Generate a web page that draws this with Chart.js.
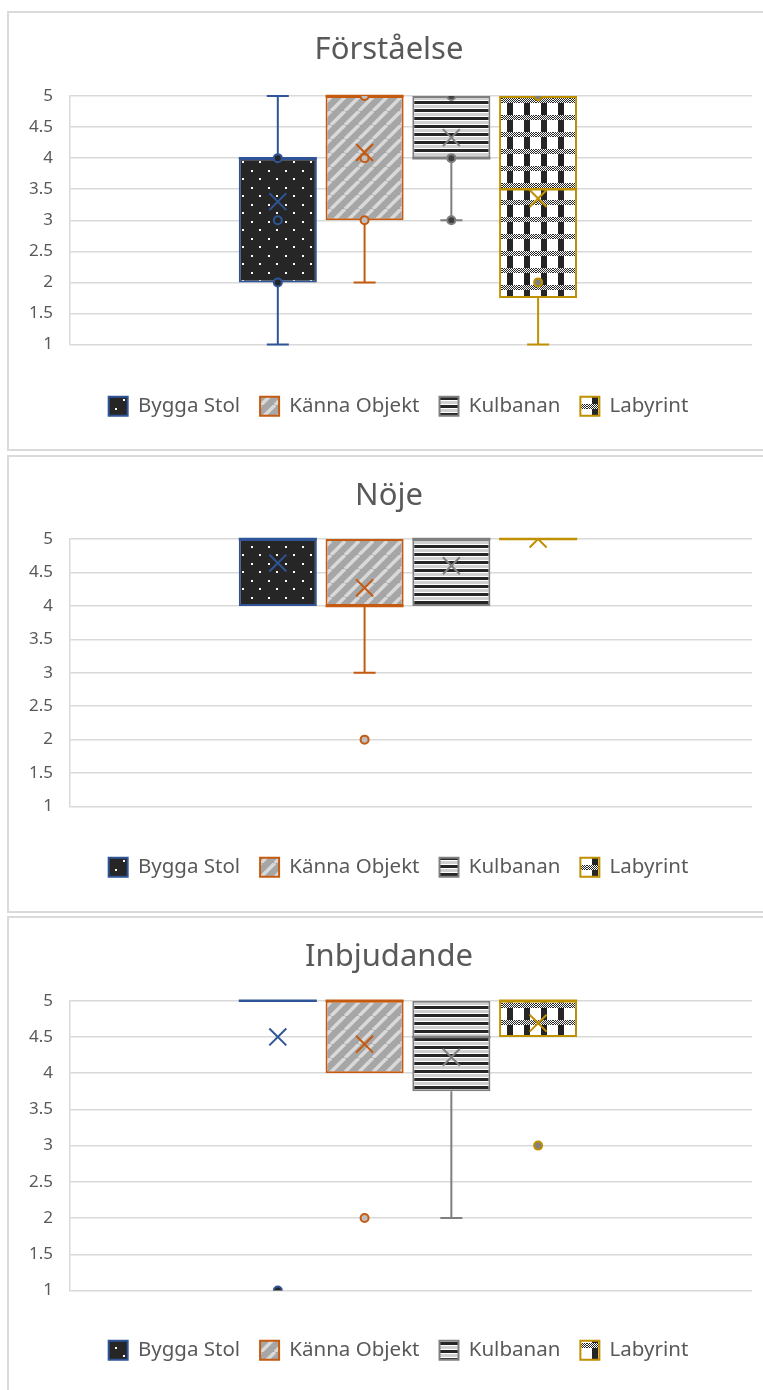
<!DOCTYPE html>
<html>
<head>
<meta charset="utf-8">
<script src="https://cdn.jsdelivr.net/npm/chart.js@4.4.0/dist/chart.umd.min.js"></script>
<style>
html,body{margin:0;padding:0;background:#fff;width:763px;height:1390px;overflow:hidden;}
.panel{position:absolute;left:7px;width:766px;border:2px solid #dadada;box-sizing:border-box;background:#fff;}
.panel canvas{position:absolute;left:0;top:0;}
</style>
</head>
<body>
<div class="panel" style="top:11px;height:440px;"><canvas id="c1" width="762" height="436"></canvas></div>
<div class="panel" style="top:455px;height:458px;"><canvas id="c2" width="762" height="454"></canvas></div>
<div class="panel" style="top:916px;height:490px;"><canvas id="c3" width="762" height="472"></canvas></div>
<script>
// ---------- data ----------
const SERIES = ['Bygga Stol', 'Känna Objekt', 'Kulbanan', 'Labyrint'];
const SERIES_X = [0, 1, 2, 3];
const Y_MIN = 1, Y_MAX = 5, Y_STEP = 0.5;

// Förståelse
const F_TITLE = 'Förståelse';
const F_MIN    = [1, 2, 3, 1];
const F_Q1     = [2, 3, 4, 1.75];
const F_MEDIAN = [4, 5, 4, 3.5];
const F_Q3     = [4, 5, 5, 5];
const F_MAX    = [5, 5, 5, 5];
const F_MEAN   = [3.3, 4.09, 4.33, 3.35];
const F_POINTS = [[4, 3, 2], [5, 4, 3], [5, 4, 3], [5, 2]];

// Nöje
const N_TITLE = 'Nöje';
const N_MIN    = [4, 3, 4, 5];
const N_Q1     = [4, 4, 4, 5];
const N_MEDIAN = [5, 4, 5, 5];
const N_Q3     = [5, 5, 5, 5];
const N_MAX    = [5, 5, 5, 5];
const N_MEAN   = [4.64, 4.27, 4.6, 5];
const N_POINTS = [[], [2], [], []];

// Inbjudande
const I_TITLE = 'Inbjudande';
const I_MIN    = [5, 4, 2, 4.5];
const I_Q1     = [5, 4, 3.75, 4.5];
const I_MEDIAN = [5, 5, 4.5, 5];
const I_Q3     = [5, 5, 5, 5];
const I_MAX    = [5, 5, 5, 5];
const I_MEAN   = [4.5, 4.4, 4.22, 4.69];
const I_POINTS = [[1], [2], [], [3]];

// ---------- styles ----------
const FONT = '"Noto Sans", "Open Sans", sans-serif';
const TEXT = '#595959';
const COLORS = ['#2F5597', '#C55A11', '#7F7F7F', '#BF9000'];
const MARKER_FILL = ['#262626', '#BFBFBF', '#404040', '#808080'];

function tile(w, h, draw) {
  const c = document.createElement('canvas');
  c.width = w; c.height = h;
  const g = c.getContext('2d');
  draw(g, w, h);
  return g.createPattern(c, 'repeat');
}
const PATTERNS = [
  tile(17, 17, (g, w, h) => {
    g.fillStyle = '#262626'; g.fillRect(0, 0, w, h);
    g.fillStyle = '#ffffff';
    g.fillRect(4, 4, 2, 2); g.fillRect(12, 12, 2, 2);
  }),
  tile(14, 14, (g, w, h) => {
    g.fillStyle = '#a6a6a6'; g.fillRect(0, 0, w, h);
    g.strokeStyle = '#d9d9d9'; g.lineWidth = 3.5;
    g.beginPath();
    for (let k = -w; k <= w; k += w) { g.moveTo(k, h); g.lineTo(k + w, 0); }
    g.stroke();
  }),
  tile(8, 8, (g, w, h) => {
    g.fillStyle = '#ffffff'; g.fillRect(0, 0, w, h);
    g.fillStyle = '#262626'; g.fillRect(0, 0, w, 3);
    g.fillStyle = '#d0d0d0'; g.fillRect(0, 4, w, 3);
  }),
  tile(17, 17, (g, w, h) => {
    g.fillStyle = '#ffffff'; g.fillRect(0, 0, w, h);
    g.fillStyle = '#262626'; g.fillRect(5, 0, 6, h);
    for (let y = 0; y < 5; y++) for (let x = 0; x < w; x++) {
      g.fillStyle = ((x + y) % 2) ? '#ffffff' : '#262626';
      g.fillRect(x, y, 1, 1);
    }
  })
];

const boxParts = {
  id: 'boxParts',
  afterLayout(chart, args, opts) {
    const lg = chart.legend;
    if (lg) { lg.left += opts.legendShift; lg.right += opts.legendShift; }
  },
  afterDatasetDraw(chart, args, opts) {
    const meta = args.meta;
    if (meta.type !== 'bar') return;
    const ds = chart.data.datasets[args.index];
    const st = ds.stats;
    const el = meta.data[0];
    if (!el) return;
    const ys = chart.scales.y;
    const ctx = chart.ctx;
    const cx = el.x, half = el.width / 2, cap = opts.cap;
    ctx.save();
    ctx.strokeStyle = ds.borderColor;
    ctx.lineWidth = opts.whiskerWidth;
    ctx.beginPath();
    if (st.min < st.q1) {
      ctx.moveTo(cx, ys.getPixelForValue(st.q1));
      ctx.lineTo(cx, ys.getPixelForValue(st.min));
      ctx.moveTo(cx - cap, ys.getPixelForValue(st.min));
      ctx.lineTo(cx + cap, ys.getPixelForValue(st.min));
    }
    if (st.max > st.q3) {
      ctx.moveTo(cx, ys.getPixelForValue(st.q3));
      ctx.lineTo(cx, ys.getPixelForValue(st.max));
      ctx.moveTo(cx - cap, ys.getPixelForValue(st.max));
      ctx.lineTo(cx + cap, ys.getPixelForValue(st.max));
    }
    ctx.stroke();
    ctx.lineWidth = opts.medianWidth;
    ctx.beginPath();
    ctx.moveTo(cx - half, ys.getPixelForValue(st.med));
    ctx.lineTo(cx + half, ys.getPixelForValue(st.med));
    ctx.stroke();
    ctx.restore();
  }
};

function makeChart(id, title, mins, q1s, meds, q3s, maxs, means, pts, L) {
  const datasets = SERIES.map((name, i) => ({
    type: 'bar',
    label: name,
    order: 2,
    data: [{x: SERIES_X[i], y: [q1s[i], q3s[i]]}],
    backgroundColor: PATTERNS[i],
    borderColor: COLORS[i],
    borderWidth: 2,
    borderSkipped: false,
    grouped: false,
    barPercentage: 0.9,
    categoryPercentage: 1,
    stats: {min: mins[i], q1: q1s[i], med: meds[i], q3: q3s[i], max: maxs[i]}
  }));
  datasets.push({
    type: 'scatter', label: 'mean', order: 1,
    data: means.map((m, i) => ({x: SERIES_X[i], y: m, s: i})),
    pointStyle: 'crossRot', pointRadius: 12, pointHoverRadius: 12, pointBorderWidth: 2,
    pointBorderColor: c => c.raw ? COLORS[c.raw.s] : '#000',
    pointBackgroundColor: 'rgba(0,0,0,0)'
  });
  const pdata = [];
  pts.forEach((arr, i) => arr.forEach(v => pdata.push({x: SERIES_X[i], y: v, s: i})));
  datasets.push({
    type: 'scatter', label: 'points', order: 0,
    data: pdata,
    pointStyle: 'circle', pointRadius: 4, pointHoverRadius: 4, pointBorderWidth: 2,
    pointBorderColor: c => c.raw ? COLORS[c.raw.s] : '#000',
    pointBackgroundColor: c => c.raw ? MARKER_FILL[c.raw.s] : '#000'
  });

  return new Chart(document.getElementById(id), {
    type: 'bar',
    data: {datasets},
    plugins: [boxParts],
    options: {
      responsive: false,
      animation: false,
      events: [],
      layout: {padding: {left: 17, right: 19, top: 0, bottom: L.lb}},
      scales: {
        x: {
          type: 'linear', min: -2.395, max: 5.465, offset: false,
          grid: {display: false}, border: {display: false}, ticks: {display: false},
          afterFit: s => { s.height = L.xh; }
        },
        y: {
          min: Y_MIN, max: Y_MAX,
          ticks: {stepSize: Y_STEP, color: TEXT, font: {family: FONT, size: 17}, padding: 17,
                  callback: v => String(v)},
          grid: {color: '#d9d9d9', lineWidth: 1.5, drawTicks: false},
          border: {display: true, color: '#d9d9d9', width: 1.5},
          afterFit: s => { s.width = 44; }
        }
      },
      plugins: {
        boxParts: {cap: 11, whiskerWidth: 2, medianWidth: 2.5, legendShift: 9.5},
        tooltip: {enabled: false},
        title: {
          display: true, text: title, color: TEXT,
          font: {family: FONT, size: 31, weight: 'normal'},
          padding: {top: L.tt, bottom: L.tb}
        },
        legend: {
          position: 'bottom',
          labels: {
            boxWidth: 19, boxHeight: 19, padding: 20, color: TEXT,
            font: {family: FONT, size: 20.5},
            filter: item => item.datasetIndex < SERIES.length
          }
        }
      }
    }
  });
}

makeChart('c1', F_TITLE, F_MIN, F_Q1, F_MEDIAN, F_Q3, F_MAX, F_MEAN, F_POINTS, {tt: 18.4, tb: 27.4, lb: 22.5, xh: 31.5});
makeChart('c2', N_TITLE, N_MIN, N_Q1, N_MEDIAN, N_Q3, N_MAX, N_MEAN, N_POINTS, {tt: 20.4, tb: 24.4, lb: 23.5, xh: 30.5});
makeChart('c3', I_TITLE, I_MIN, I_Q1, I_MEDIAN, I_Q3, I_MAX, I_MEAN, I_POINTS, {tt: 20.4, tb: 25.1, lb: 19.5, xh: 29.5});
</script>
</body>
</html>
